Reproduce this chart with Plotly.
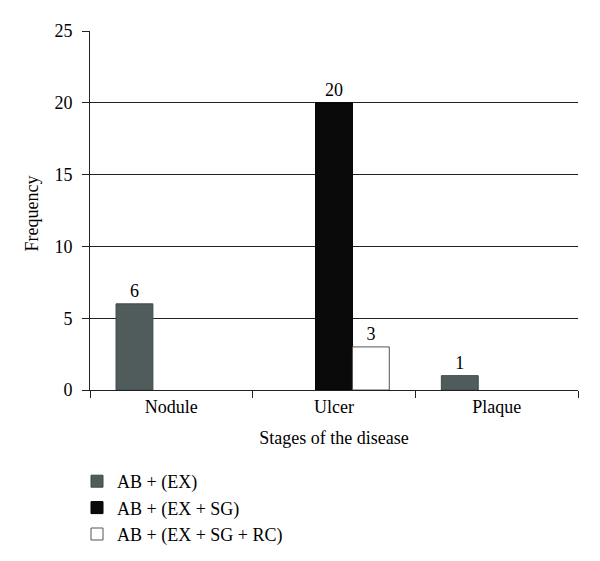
import plotly.graph_objects as go

categories = ["Nodule", "Ulcer", "Plaque"]
series_names = ["AB + (EX)", "AB + (EX + SG)", "AB + (EX + SG + RC)"]
ab_ex = [6, None, 1]
ab_ex_sg = [None, 20, None]
ab_ex_sg_rc = [None, 3, None]
y_ticks = [0, 5, 10, 15, 20, 25]

FONT = "Liberation Serif"
FS = 18
fills = ["#505c5c", "#0a0a0a", "#ffffff"]
lines = ["#3f4a4a", "#000000", "#555555"]

fig = go.Figure()
for name, vals, fc, lc in zip(series_names, [ab_ex, ab_ex_sg, ab_ex_sg_rc], fills, lines):
    fig.add_trace(go.Bar(
        x=categories, y=vals, name=name,
        marker=dict(color=fc, line=dict(color=lc, width=1)),
        text=["" if v is None else str(v) for v in vals],
        textposition="outside", cliponaxis=False,
        textfont=dict(family=FONT, size=FS, color="#000"),
    ))

fig.update_layout(
    width=600, height=561,
    margin=dict(l=90, r=22, t=31, b=171, autoexpand=False),
    paper_bgcolor="white", plot_bgcolor="white",
    barmode="group", bargap=0.32, bargroupgap=0,
    font=dict(family=FONT, size=FS, color="#000"),
    showlegend=True,
    legend=dict(
        orientation="v", x=77 / 600, xref="container", xanchor="left",
        y=1 - 463 / 561, yref="container", yanchor="top",
        font=dict(family=FONT, size=18), traceorder="normal",
        bgcolor="rgba(0,0,0,0)", itemwidth=30, tracegroupgap=0,
    ),
    xaxis=dict(
        showline=True, linecolor="#222", linewidth=1,
        ticks="outside", tickson="boundaries", ticklen=7, tickcolor="#222",
        title=dict(text="Stages of the disease", font=dict(size=FS)),
        tickfont=dict(size=FS), showgrid=False,
    ),
    yaxis=dict(
        range=[0, 25], tickvals=y_ticks,
        showline=True, linecolor="#222", linewidth=1,
        ticks="outside", ticklen=7, tickcolor="#222", ticklabelstandoff=6,
        showgrid=True, gridcolor="#222", gridwidth=1,
        zeroline=False,
        tickfont=dict(size=FS),
    ),
    annotations=[dict(
        text="Frequency", textangle=-90, showarrow=False,
        xref="paper", yref="paper", x=0, xshift=-59, y=0.5, yshift=-3,
        xanchor="center", yanchor="middle",
        font=dict(family=FONT, size=FS, color="#000"),
    )],
)

fig.write_html("out.html", config={"displayModeBar": False},
               post_script="document.body.style.margin='0';")
